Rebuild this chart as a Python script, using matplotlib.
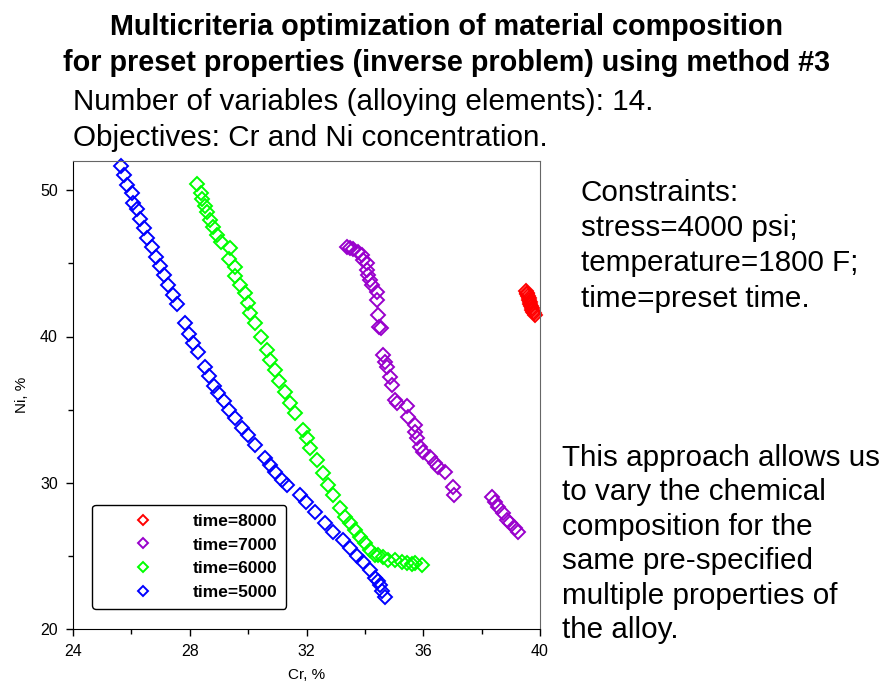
import matplotlib
matplotlib.use('Agg')
import matplotlib.pyplot as plt
from matplotlib.ticker import MultipleLocator

plt.rcParams['font.family'] = ['Liberation Sans', 'DejaVu Sans']

W, H = 891, 684

# time=5000
blue_cr = [25.63, 25.75, 25.86, 26.01, 26.07, 26.20, 26.30, 26.43, 26.55, 26.70,
           26.84, 26.98, 27.12, 27.26, 27.42, 27.57, 27.84, 27.98, 28.12, 28.29,
           28.52, 28.67, 28.83, 28.98, 29.17, 29.35, 29.55, 29.78, 30.01, 30.24,
           30.58, 30.75, 30.92, 31.15, 31.34, 31.78, 31.98, 32.29, 32.63, 32.92,
           33.26, 33.49, 33.72, 33.95, 34.17, 34.35, 34.45, 34.52, 34.60, 34.69]
blue_ni = [51.67, 51.06, 50.38, 49.80, 49.16, 48.71, 48.02, 47.41, 46.72, 46.11,
           45.46, 44.83, 44.21, 43.53, 42.85, 42.23, 40.91, 40.18, 39.58, 38.97,
           37.94, 37.31, 36.62, 36.12, 35.60, 34.98, 34.41, 33.73, 33.27, 32.59,
           31.68, 31.22, 30.76, 30.19, 29.85, 29.17, 28.71, 28.02, 27.27, 26.66,
           26.09, 25.52, 24.99, 24.60, 24.04, 23.47, 23.30, 23.01, 22.60, 22.21]

# time=6000
green_cr = [28.26, 28.37, 28.41, 28.52, 28.60, 28.69, 28.81, 28.92, 29.06, 29.38,
            29.35, 29.55, 29.55, 29.72, 29.89, 30.01, 30.06, 30.24, 30.43, 30.64,
            30.75, 30.92, 31.07, 31.26, 31.43, 31.61, 31.89, 32.01, 32.12, 32.35,
            32.57, 32.75, 32.92, 33.15, 33.32, 33.49, 33.66, 33.83, 34.00, 34.17,
            34.35, 34.46, 34.63, 34.80, 35.03, 35.26, 35.43, 35.60, 35.72, 35.95]
green_ni = [50.44, 49.84, 49.39, 48.89, 48.54, 47.98, 47.52, 46.95, 46.49, 46.04,
            45.29, 44.78, 44.15, 43.53, 42.96, 42.28, 41.59, 40.91, 40.00, 39.08,
            38.40, 37.72, 36.98, 36.23, 35.44, 34.75, 33.61, 33.04, 32.36, 31.56,
            30.65, 29.85, 29.17, 28.26, 27.68, 27.23, 26.77, 26.31, 25.86, 25.40,
            25.06, 25.06, 24.95, 24.72, 24.72, 24.60, 24.49, 24.45, 24.54, 24.38]

# time=7000
purple_cr = [33.38, 33.49, 33.60, 33.77, 33.89, 33.95, 34.06, 34.06, 34.12, 34.17,
             34.23, 34.40, 34.40, 34.46, 34.49, 34.54, 34.61, 34.69, 34.77, 34.86,
             34.92, 35.03, 35.09, 35.43, 35.49, 35.72, 35.72, 35.77, 35.89, 36.00,
             36.23, 36.40, 36.52, 36.74, 37.03, 37.05, 38.34, 38.46, 38.57, 38.74,
             38.86, 38.97, 39.14, 39.26]
purple_ni = [46.15, 46.04, 45.97, 45.81, 45.58, 45.24, 45.01, 44.56, 44.21, 43.87,
             43.53, 43.07, 42.50, 41.48, 40.68, 40.57, 38.74, 38.28, 37.94, 37.26,
             36.69, 35.66, 35.44, 35.25, 34.52, 33.95, 33.50, 33.04, 32.47, 32.13,
             31.79, 31.33, 31.10, 30.76, 29.74, 29.17, 29.05, 28.71, 28.37, 27.91,
             27.46, 27.23, 26.89, 26.66]

# time=8000
red_cr = [39.52, 39.54, 39.56, 39.58, 39.61, 39.63, 39.65, 39.67, 39.69, 39.71,
          39.74, 39.77, 39.80, 39.83]
red_ni = [43.10, 43.00, 42.88, 42.76, 42.62, 42.50, 42.38, 42.24, 42.10, 41.96,
          41.82, 41.70, 41.58, 41.48]

title_lines = ['Multicriteria optimization of material composition',
               'for preset properties (inverse problem) using method #3']
info_lines = ['Number of variables (alloying elements): 14.',
              'Objectives: Cr and Ni concentration.']
constraint_lines = ['Constraints:', 'stress=4000 psi;', 'temperature=1800 F;',
                    'time=preset time.']
note_lines = ['This approach allows us', 'to vary the chemical',
              'composition for the', 'same pre-specified',
              'multiple properties of', 'the alloy.']

fig = plt.figure(figsize=(W / 100, H / 100), dpi=100)
ax = fig.add_axes([73 / W, 1 - 629 / H, (540 - 73) / W, (629 - 161) / H])

series = [
    (red_cr, red_ni, '#ff0000', 'time=8000'),
    (purple_cr, purple_ni, '#9900cc', 'time=7000'),
    (green_cr, green_ni, '#00ff00', 'time=6000'),
    (blue_cr, blue_ni, '#0000ff', 'time=5000'),
]
for cr, ni, col, lab in series:
    ax.plot(cr, ni, linestyle='none', marker='D', ms=6.8, mfc='none',
            mec=col, mew=1.4, label=lab, clip_on=False)

ax.set_xlim(24, 40)
ax.set_ylim(20, 52)
ax.xaxis.set_major_locator(MultipleLocator(4))
ax.xaxis.set_minor_locator(MultipleLocator(2))
ax.yaxis.set_major_locator(MultipleLocator(10))
ax.yaxis.set_minor_locator(MultipleLocator(5))
ax.tick_params(which='major', length=5, width=1, labelsize=11.5, pad=6)
ax.tick_params(which='minor', length=3.4, width=1)
for side in ['top', 'right']:
    ax.spines[side].set_color('#666666')
ax.set_xlabel('Cr, %', fontsize=11, labelpad=6)
ax.set_ylabel('Ni, %', fontsize=11, labelpad=8)

leg = ax.legend(loc='lower left', bbox_to_anchor=(0.041, 0.043), borderaxespad=0,
                prop={'weight': 'bold', 'size': 12.5}, markerscale=0.75,
                handlelength=4.86, handletextpad=0.44, borderpad=0.5,
                labelspacing=0.5, fancybox=True, framealpha=1)
leg.get_frame().set_edgecolor('black')
leg.get_frame().set_linewidth(1)


def put(x, y, s, **kw):
    fig.text(x / W, 1 - y / H, s, va='baseline', **kw)


for i, s in enumerate(title_lines):
    put(446, 35 + 35.7 * i, s, ha='center', fontsize=20.7, fontweight='bold')
for i, s in enumerate(info_lines):
    put(73, 110 + 36.5 * i, s, fontsize=21.3)
for i, s in enumerate(constraint_lines):
    put(581, 200.7 + 35.3 * i, s, fontsize=21.3)
for i, s in enumerate(note_lines):
    put(562, 465.5 + 34.6 * i, s, fontsize=21.3)

fig.savefig('out.png', dpi=100)
